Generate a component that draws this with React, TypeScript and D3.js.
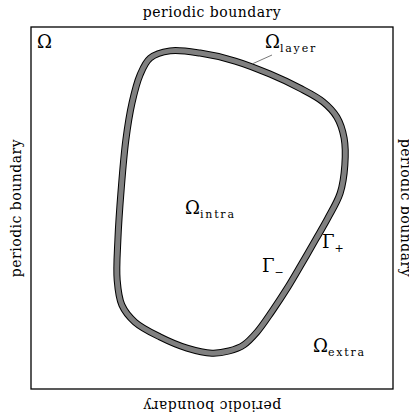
import React from "react";
import * as d3 from "d3";

// cell outline, box units (0..100 both ways, y down), clockwise from the top
const shapeU = [38.4, 46.7, 56.4, 66.0, 74.3, 80.7, 84.5, 86.5, 86.7, 85.4, 82.0, 78.7, 74.9, 71.0, 66.6, 62.4, 58.8, 54.7, 50.0, 43.1, 35.6, 28.7, 25.1, 23.8, 24.0, 24.9, 26.2, 27.9, 30.1, 32.9];
const shapeV = [6.6, 7.2, 9.4, 13.0, 16.9, 20.7, 24.9, 30.7, 38.1, 45.9, 52.8, 58.6, 65.2, 71.8, 78.5, 84.3, 87.8, 89.5, 90.1, 88.7, 85.6, 81.5, 76.8, 69.9, 58.8, 45.0, 31.2, 21.0, 13.3, 8.6];

const sideLabel = "periodic boundary";

const width = 409;
const height = 414;

const serif = "'DejaVu Serif', serif";

const MathLabel: React.FC<{ x: number; y: number; main: string; sub?: string }> = ({ x, y, main, sub }) => (
  <text x={x} y={y} fontFamily={serif} fontSize={18} fill="#000">
    <tspan>{main}</tspan>
    {sub && (
      <tspan dy={3.5} fontSize={11} letterSpacing={1.8}>
        {sub}
      </tspan>
    )}
  </text>
);

export default function App() {
  const x = d3.scaleLinear().domain([0, 100]).range([31, 393]);
  const y = d3.scaleLinear().domain([0, 100]).range([27, 389]);

  const pts = shapeU.map((u, i) => [u, shapeV[i]] as [number, number]);
  const line = d3
    .line<[number, number]>()
    .x((d) => x(d[0]))
    .y((d) => y(d[1]))
    .curve(d3.curveCatmullRomClosed.alpha(0.5));
  const path = line(pts) || "";

  const labelStyle = { fontFamily: serif, fontSize: 14, letterSpacing: 0.5 };

  return (
    <svg
      width={width}
      height={height}
      style={{ position: "absolute", left: 0, top: 0, background: "#fff" }}
    >
      {/* periodic cell */}
      <rect x={x(0)} y={y(0)} width={x(100) - x(0)} height={y(100) - y(0)} fill="none" stroke="#000" strokeWidth={1.3} />

      {/* membrane layer: dark outline, grey band */}
      <path d={path} fill="none" stroke="#000" strokeWidth={7} />
      <path d={path} fill="none" stroke="#808080" strokeWidth={5} />

      {/* side labels */}
      <text x={212} y={17} textAnchor="middle" {...labelStyle}>{sideLabel}</text>
      <text transform="translate(212,401) rotate(180)" textAnchor="middle" {...labelStyle}>{sideLabel}</text>
      <text transform="translate(21,208) rotate(-90)" textAnchor="middle" {...labelStyle}>{sideLabel}</text>
      <text transform="translate(401,208) rotate(90)" textAnchor="middle" {...labelStyle}>{sideLabel}</text>

      {/* region labels */}
      <MathLabel x={37} y={48} main="Ω" />
      <line x1={252} y1={64} x2={272} y2={55} stroke="#555" strokeWidth={0.8} />
      <MathLabel x={265} y={48} main="Ω" sub="layer" />
      <MathLabel x={185} y={214} main="Ω" sub="intra" />
      <MathLabel x={313} y={352} main="Ω" sub="extra" />
      <MathLabel x={322} y={248} main="Γ" sub="+" />
      <MathLabel x={262} y={272} main="Γ" sub="−" />
    </svg>
  );
}
